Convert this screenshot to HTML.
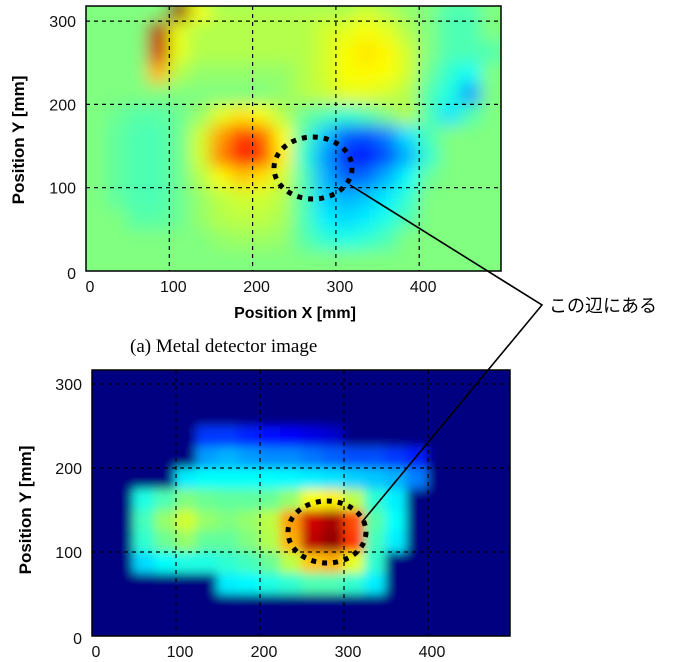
<!DOCTYPE html>
<html><head><meta charset="utf-8"><style>
body{margin:0;background:#fff;width:696px;height:662px;overflow:hidden}
svg{display:block}
text{font-family:"Liberation Sans",sans-serif}
</style></head><body>
<svg id="fig" width="696" height="662" viewBox="0 0 696 662" xmlns="http://www.w3.org/2000/svg">
<defs>
<filter id="blurA" x="-5%" y="-5%" width="110%" height="110%"><feGaussianBlur stdDeviation="8"/></filter>
<filter id="blurB" x="-5%" y="-5%" width="110%" height="110%"><feGaussianBlur stdDeviation="5"/></filter>
<clipPath id="clipA"><rect x="86" y="6" width="415" height="265"/></clipPath>
<clipPath id="clipB"><rect x="92" y="370" width="418" height="266"/></clipPath>
</defs>
<g id="plotA"></g>
<g id="plotB"></g>
<text x="295" y="318" text-anchor="middle" font-weight="bold" font-size="16">Position X [mm]</text>
<text x="130" y="352" font-size="19" style="font-family:'Liberation Serif',serif">(a)  Metal detector image</text>
<text transform="translate(24,140) rotate(-90)" text-anchor="middle" font-weight="bold" font-size="17">Position Y [mm]</text>
<text transform="translate(31,510) rotate(-90)" text-anchor="middle" font-weight="bold" font-size="17">Position Y [mm]</text>
<polyline points="350,185 542,305 362,522" fill="none" stroke="#000" stroke-width="1.6"/>
<text x="549" y="312" font-size="18" style="font-family:'Liberation Sans','Noto Sans CJK JP',sans-serif">この辺にある</text>
</svg>
<script>
// Top: metal detector values (rows from y=312 down to y=12, 25mm cells)
const topRow312=[.5,.5,.5,.5,.98,.62,.55,.55,.55,.55,.55,.55,.55,.58,.55,.52,.5,.45,.45,.5];
const topRow287=[.5,.5,.5,.95,.6,.55,.55,.55,.55,.55,.55,.58,.6,.62,.6,.55,.5,.45,.45,.5];
const topRow262=[.5,.5,.5,.92,.6,.55,.55,.55,.55,.55,.55,.58,.62,.65,.63,.58,.5,.45,.45,.45];
const topRow237=[.5,.5,.5,.7,.55,.52,.52,.52,.52,.52,.55,.58,.62,.63,.62,.58,.48,.42,.38,.5];
const topRow212=[.5,.5,.5,.5,.5,.5,.5,.5,.5,.52,.55,.57,.6,.6,.58,.55,.45,.4,.28,.5];
const topRow187=[.5,.48,.46,.46,.48,.52,.6,.65,.62,.55,.48,.45,.42,.45,.5,.55,.45,.35,.45,.5];
const topRow162=[.5,.47,.45,.45,.48,.58,.72,.82,.78,.62,.45,.32,.22,.2,.25,.35,.45,.5,.5,.5];
const topRow137=[.5,.47,.45,.45,.48,.58,.75,.87,.82,.64,.42,.28,.16,.13,.2,.3,.42,.5,.5,.5];
const topRow112=[.5,.47,.45,.45,.48,.55,.62,.68,.65,.58,.45,.3,.22,.23,.3,.38,.48,.5,.5,.5];
const topRow87=[.5,.47,.45,.45,.48,.52,.56,.58,.58,.55,.45,.33,.3,.32,.36,.42,.5,.5,.5,.5];
const topRow62=[.5,.5,.46,.46,.48,.52,.55,.56,.56,.54,.45,.36,.34,.36,.4,.45,.5,.5,.5,.5];
const topRow37=[.5,.5,.5,.5,.5,.5,.52,.53,.53,.52,.46,.42,.4,.42,.45,.5,.5,.5,.5,.5];
const topRow12=[.5,.5,.5,.5,.5,.5,.5,.5,.5,.5,.5,.5,.5,.5,.5,.5,.5,.5,.5,.5];
// Bottom: radar values
const botRow312=[0,0,0,0,0,0,0,0,0,0,0,0,0,0,0,0,0,0,0,0];
const botRow287=[0,0,0,0,0,0,0,0,0,0,0,0,0,0,0,0,0,0,0,0];
const botRow262=[0,0,0,0,0,0,0,0,0,0,0,0,0,0,0,0,0,0,0,0];
const botRow237=[0,0,0,0,0,.18,.18,.16,.14,.12,.1,.08,0,0,0,0,0,0,0,0];
const botRow212=[0,0,0,0,0,.28,.3,.28,.26,.26,.24,.22,.2,.2,.18,.15,0,0,0,0];
const botRow187=[0,0,0,0,.36,.38,.38,.38,.38,.37,.36,.35,.33,.32,.3,.25,0,0,0,0];
const botRow162=[0,0,.4,.45,.5,.48,.47,.47,.48,.52,.62,.64,.56,.42,.36,0,0,0,0,0];
const botRow137=[0,0,.44,.52,.58,.52,.5,.52,.56,.72,.92,.96,.8,.46,.38,0,0,0,0,0];
const botRow112=[0,0,.42,.48,.52,.47,.47,.5,.55,.7,.94,.98,.82,.44,.36,0,0,0,0,0];
const botRow87=[0,0,.34,.38,.4,.4,.42,.44,.48,.56,.68,.7,.6,.42,0,0,0,0,0,0];
const botRow62=[0,0,0,0,0,0,.36,.37,.4,.42,.45,.45,.42,.36,0,0,0,0,0,0];
const botRow37=[0,0,0,0,0,0,0,0,0,0,0,0,0,0,0,0,0,0,0,0];
const botRow12=[0,0,0,0,0,0,0,0,0,0,0,0,0,0,0,0,0,0,0,0];
const rowY=[312,287,262,237,212,187,162,137,112,87,62,37,12];
const colX=[12,37,62,87,112,137,162,187,212,237,262,287,312,337,362,387,412,437,462,487];
const xTicks=[0,100,200,300,400];
const yTicks=[0,100,200,300];
const topGrid=[topRow312,topRow287,topRow262,topRow237,topRow212,topRow187,topRow162,topRow137,topRow112,topRow87,topRow62,topRow37,topRow12];
const botGrid=[botRow312,botRow287,botRow262,botRow237,botRow212,botRow187,botRow162,botRow137,botRow112,botRow87,botRow62,botRow37,botRow12];

const NS="http://www.w3.org/2000/svg";
function jet(v){
  v=Math.max(0,Math.min(1,v));
  const f=t=>Math.round(255*Math.max(0,Math.min(1,1.5-Math.abs(4*v-t))));
  return `rgb(${f(3)},${f(2)},${f(1)})`;
}
function mk(tag,attrs,parent){const e=document.createElementNS(NS,tag);for(const k in attrs)e.setAttribute(k,attrs[k]);parent.appendChild(e);return e;}
function draw(g,grid,o){
  const sx=v=>o.x0+v*o.k, sy=v=>o.y0-v*o.k;
  const clip=mk('g',{'clip-path':o.clip},g);
  mk('rect',{x:o.x0,y:o.top,width:o.w,height:o.h,fill:jet(o.bg)},clip);
  const cells=mk('g',{filter:o.filter},clip);
  grid.forEach((row,r)=>row.forEach((v,c)=>{
    const rc=mk('rect',{x:sx(colX[c]-12.5)-0.5,y:sy(rowY[r]+12.5)-0.5,width:25*o.k+1,height:25*o.k+1,fill:jet(v)},cells);
    
    
  }));
  xTicks.slice(1).forEach(t=>{const l=mk('line',{x1:sx(t),x2:sx(t),y1:o.top,y2:o.top+o.h,stroke:'#000','stroke-dasharray':'4,4','stroke-width':1.2},clip);
    });
  yTicks.slice(1).forEach(t=>{const l=mk('line',{x1:o.x0,x2:o.x0+o.w,y1:sy(t),y2:sy(t),stroke:'#000','stroke-dasharray':'4,4','stroke-width':1.2},clip);
    });
  const fr=mk('rect',{x:o.x0,y:o.top,width:o.w,height:o.h,fill:'none',stroke:'#000','stroke-width':1.5},g);
  
  xTicks.forEach(t=>{const e=mk('text',{x:sx(t)+4,y:o.top+o.h+21,'text-anchor':'middle','font-size':16,fill:'#111'},g);e.textContent=t;
    });
  yTicks.forEach(t=>{const e=mk('text',{x:o.x0-10,y:sy(t)+(t===0?8:6),'text-anchor':'end','font-size':16,fill:'#111'},g);e.textContent=t;
    });
  const el=mk('ellipse',{cx:o.ex,cy:o.ey,rx:39,ry:31,fill:'none',stroke:'#000','stroke-width':5,'stroke-dasharray':'5,6'},g);
  
}
draw(document.getElementById('plotA'),topGrid,{x0:86,y0:271,k:0.833,top:6,w:415,h:265,bg:0.5,clip:'url(#clipA)',filter:'url(#blurA)',ex:313,ey:168});
draw(document.getElementById('plotB'),botGrid,{x0:92,y0:636,k:0.84,top:370,w:418,h:266,bg:0,clip:'url(#clipB)',filter:'url(#blurB)',ex:327,ey:532});
</script>
</body></html>
